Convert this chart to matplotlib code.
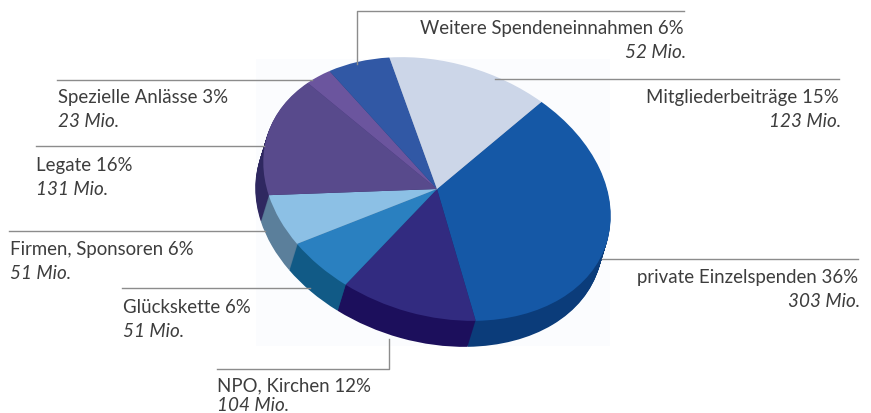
import matplotlib
matplotlib.use('Agg')
import matplotlib.pyplot as plt
from matplotlib.patches import Rectangle
from matplotlib.transforms import Affine2D

plt.rcParams['font.family'] = ['Lato', 'DejaVu Sans']

# clockwise, starting at the upper right edge of the big slice
names = ['private Einzelspenden', 'NPO, Kirchen', 'Glückskette', 'Firmen, Sponsoren',
         'Legate', 'Spezielle Anlässe', 'Weitere Spendeneinnahmen', 'Mitgliederbeiträge']
percents = [36, 12, 6, 6, 16, 3, 6, 15]
millions = [303, 104, 51, 51, 131, 23, 52, 123]
top_colors = ['#1558a6', '#322b80', '#2a80c0', '#8cc0e5', '#584a8c', '#6b559e', '#3158a5', '#ccd6e8']
side_colors = ['#0b3c7a', '#1c0f5c', '#115a86', '#5b7f9b', '#2f2860', '#3a2c70', '#1c3a78', '#8f9ab0']

# label anchor x, name baseline y, gap to the amount, alignment
label_pos = [(860, 283, 24, 'right'), (217, 391, 20, 'left'), (123, 313, 24, 'left'), (10, 255, 24, 'left'),
             (36, 171, 24, 'left'), (58, 103, 24, 'left'), (686, 34, 24, 'right'), (841, 103, 24, 'right')]
# leader lines in image pixels
leaders = [[(602, 260), (858, 260)],
           [(389, 340), (389, 370), (217, 370)],
           [(122, 289), (310, 289)],
           [(9, 232), (265, 232)],
           [(36, 147), (264, 147)],
           [(57, 81), (312, 81)],
           [(684, 12), (357, 12), (357, 65)],
           [(495, 80), (839, 80)]]

W, H = 871, 414
fig = plt.figure(figsize=(W / 100, H / 100), dpi=100)
ax = fig.add_axes([0, 0, 1, 1])
ax.set_xlim(0, W)
ax.set_ylim(0, H)


def draw_pie(colors, cx, cy):
    wedges, _ = ax.pie(millions, colors=colors, startangle=66, counterclock=False, frame=False)
    tr = Affine2D().scale(178, 126).rotate_deg(-18).translate(cx, H - cy) + ax.transData
    for w in wedges:
        w.set_transform(tr)
        w.set_linewidth(0)


ax.add_patch(Rectangle((256, H - 347), 354, 287, color='#fbfcfe', lw=0, zorder=0))

depth = 26
for i in range(depth, 0, -1):
    draw_pie(side_colors, 437 - 8 * i / depth, 190 + i)
draw_pie(top_colors, 437, 190)

ax.set_xlim(0, W)
ax.set_ylim(0, H)
ax.set_aspect('auto')
ax.axis('off')

for pts in leaders:
    ax.plot([p[0] for p in pts], [H - p[1] for p in pts], color='#8c8c8c', lw=1.0, zorder=5)

for name, pct, mio, (x, y, gap, ha) in zip(names, percents, millions, label_pos):
    ax.text(x - 2 if ha == 'right' else x, H - y, f'{name} {pct}%', ha=ha, va='baseline', fontsize=13.4,
            color='#3d3d3d', zorder=6)
    ax.text(x, H - y - gap, f'{mio} Mio.', ha=ha, va='baseline', fontsize=13.6, style='italic',
            color='#3d3d3d', zorder=6)

fig.savefig('out.png', dpi=100)
